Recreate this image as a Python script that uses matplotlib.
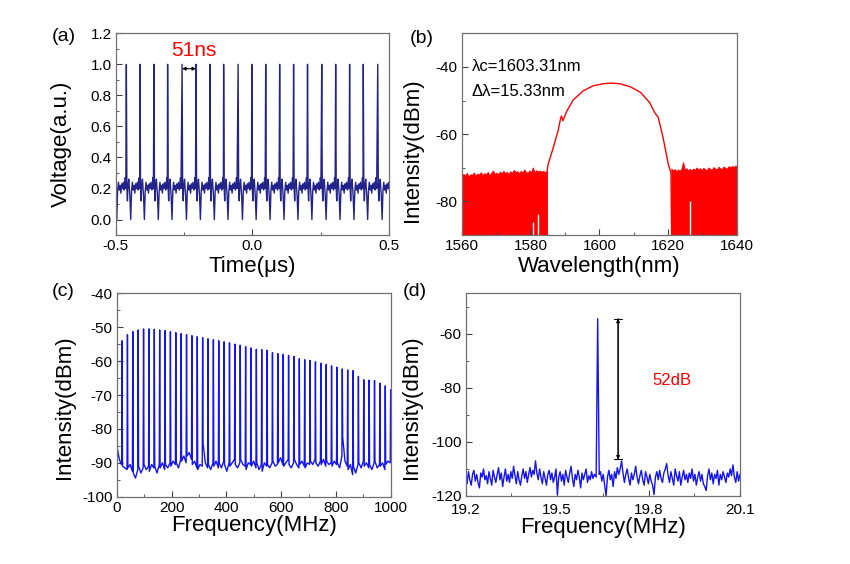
import numpy as np
import matplotlib
matplotlib.use("Agg")
import matplotlib.pyplot as plt
from matplotlib.ticker import MultipleLocator

plt.rcParams['font.family'] = ['Liberation Sans', 'DejaVu Sans']
plt.rcParams['axes.unicode_minus'] = False

# ---- (a) pulse train ----
peak_t = [-0.512, -0.461, -0.411, -0.360, -0.310, -0.257, -0.206, -0.155, -0.105, -0.052,
          -0.002, 0.049, 0.100, 0.151, 0.202, 0.254, 0.305, 0.356, 0.406, 0.459]
# one period shape after each pulse (ns, a.u.)
period_ns = [0, 2, 4, 6, 9, 13, 16, 19, 22, 25, 28, 31, 34, 37, 40, 43, 45, 47, 49]
period_v = [1.0, 0.20, 0.12, 0.22, 0.26, 0.15, 0.0, 0.18, 0.24, 0.19, 0.22, 0.17,
            0.23, 0.20, 0.24, 0.19, 0.21, 0.27, 0.20]

# ---- (b) optical spectrum ----
noise_left_top = [-72.5, -71.8, -72.3, -71.5, -72.6, -71.9, -72.1, -71.4, -72.4, -71.7,
                  -72.0, -71.3, -72.2, -71.6, -71.9, -71.2, -72.3, -71.5, -70.8, -71.8,
                  -71.4, -72.0, -71.1, -71.7, -70.9, -71.6, -71.2, -71.9, -71.0, -71.5,
                  -70.6, -71.3, -71.0, -71.6, -70.9, -71.4, -70.5, -71.2, -71.5, -70.8,
                  -71.3, -69.9, -71.4, -70.7, -71.1, -70.8, -71.2, -70.9, -71.3, -71.0]
noise_right_top = [-70.2, -70.8, -70.4, -71.0, -70.5, -70.9, -70.3, -68.3, -70.6, -70.1,
                   -70.8, -70.3, -70.9, -70.2, -70.6, -69.9, -70.5, -70.1, -70.7, -70.0,
                   -70.4, -70.8, -69.9, -70.3, -70.6, -69.8, -70.2, -70.5, -69.7, -70.1,
                   -70.4, -69.6, -70.0, -70.3, -69.5, -69.9, -69.4, -69.8, -69.3, -69.6]
gap_wl = [1580.6, 1582.3, 1626.4]
gap_top = [-86.1, -83.7, -79.8]
spec_wl = [1584.8, 1584.8, 1585.1, 1586.6, 1588.0, 1588.7, 1589.0, 1589.4, 1590.5, 1592.4,
           1595.3, 1598.2, 1601.1, 1603.3, 1606.0, 1609.0, 1612.0, 1614.6, 1616.1, 1616.6,
           1617.1, 1618.5, 1620.0, 1620.8, 1621.0]
spec_db = [-90.0, -71.0, -69.0, -64.0, -59.0, -55.5, -54.6, -56.0, -53.2, -49.8,
           -47.1, -45.6, -45.0, -44.8, -45.0, -45.9, -47.6, -50.6, -53.6, -54.3,
           -55.0, -61.0, -68.8, -71.5, -90.0]

# ---- (c) RF spectrum, 1 GHz span ----
rep_rate = 19.6  # MHz
tooth_db = [-54.0, -52.2, -51.3, -50.8, -50.5, -50.5, -50.6, -50.8, -51.0, -51.3,
            -51.6, -51.9, -52.2, -52.5, -52.8, -53.1, -53.4, -53.7, -54.0, -54.3,
            -54.6, -55.0, -55.3, -55.7, -56.1, -56.5, -56.6, -56.8, -57.5, -57.8,
            -58.0, -58.3, -58.6, -59.3, -59.6, -59.8, -60.2, -60.6, -61.0, -61.4,
            -61.8, -62.3, -62.6, -62.8, -64.5, -65.5, -65.6, -65.7, -66.5, -67.3, -68.5]
start_f = [0, 0.5, 3, 6, 10, 14, 18.1]
start_db = [-40, -84.5, -86, -87.5, -89, -90, -90.5]
base_c = [-91, -91.5, -92, -91.5, -90.5, -92.5, -93, -94.5, -92, -91, -93, -91.5,
          -90.5, -92, -91, -92.5, -90.5, -91.5, -91, -93, -90.5, -91.5, -90, -92,
          -90.5, -91.5, -90, -91, -89.5, -90.5, -90, -91.5, -89, -89.5, -88, -90,
          -88, -87, -89, -90.5, -89.5, -91.5, -92, -90.5, -91, -84.2, -90, -91.5,
          -90.5, -92, -90, -91, -89.5, -91.5, -90, -91.5, -89.5, -90.5, -92.5, -90,
          -91, -90, -89, -90.5, -91.5, -90, -89, -90.5, -91, -92, -90, -90.5,
          -91, -89.5, -91.5, -90, -92, -90.5, -92.5, -90, -91, -90.5, -91.5, -90,
          -89.5, -91, -90.5, -90, -88.5, -90.5, -91, -90, -89, -90.5, -91.5, -90,
          -89, -90.5, -91.5, -90.5, -89.5, -91, -91.5, -90, -90.5, -89.5, -90.5, -89,
          -90, -91, -89.5, -90.5, -89, -91, -89.5, -90.5, -90, -91, -89.5, -90.5,
          -90, -91.5, -88, -82.5, -89.5, -91, -92, -90.5, -93.5, -91, -93, -90.5,
          -90, -91.5, -89.5, -91, -90, -91.5, -90.5, -92, -90, -89.5, -91.5, -90.5,
          -91, -90, -92, -90.5, -89.5, -90]

# ---- (d) RF spectrum, fundamental ----
peak_f = [19.628, 19.633, 19.638]
peak_db = [-113.0, -54.4, -112.0]
noise_d_left = [-113, -115.5, -111, -114, -116, -112, -110.5, -114.5, -112, -115,
                -117, -111.5, -113, -110, -114, -112.5, -115.5, -111, -113.5, -116,
                -110.5, -113, -115, -112, -109.5, -114, -111.5, -116.5, -113, -110,
                -114.5, -112, -115, -111, -113.5, -109, -112.5, -115.5, -111, -114,
                -116, -112.5, -110, -113.5, -111, -115, -112, -109.5, -113, -110.5,
                -112, -107, -111.5, -114, -110, -113, -115.5, -111, -113.5, -116,
                -112, -110.5, -114, -111.5, -115, -113, -110, -119.5, -113, -111,
                -114.5, -112, -116, -110.5, -113, -115, -111.5, -109, -113.5, -116.5,
                -112, -114, -110.5, -113, -117, -111.5, -114, -112, -110, -115,
                -112.5, -114, -111, -113.5, -112]
noise_d_right = [-111, -114.5, -112, -116, -120, -113, -110.5, -114, -112, -116.5,
                 -111, -113.5, -109.5, -112, -110, -107, -111.5, -115, -112, -110,
                 -113.5, -116, -111.5, -114, -112, -109, -113, -115.5, -112.5, -110.5,
                 -114, -116, -111, -113, -115.5, -112, -114.5, -116, -119.5, -113,
                 -111, -114, -110.5, -113.5, -115, -111.5, -110, -108, -112.5, -115,
                 -111, -113.5, -116, -110, -112.5, -114.5, -111, -116, -113, -110.5,
                 -114, -112, -115, -111.5, -113.5, -110, -114.5, -112, -116, -113,
                 -111, -114.5, -112, -115.5, -116.5, -118, -112.5, -110, -114, -111.5,
                 -115.5, -112, -113.5, -110.5, -116, -112, -114, -111, -113, -115,
                 -111.5, -113, -110, -112.5, -108.5, -113, -115, -111, -114.5, -112]
snr_f = 19.70
snr_top, snr_bottom = -54.4, -106.5

BLUE_A = '#23238c'
BLUE = '#1414f0'
RED = '#ff0000'
FRAME = '#707070'


def style(ax, xmaj, xmin, ymaj, ymin):
    for s in ax.spines.values():
        s.set_color(FRAME)
        s.set_linewidth(0.9)
    ax.xaxis.set_major_locator(MultipleLocator(xmaj))
    ax.xaxis.set_minor_locator(MultipleLocator(xmin))
    ax.yaxis.set_major_locator(MultipleLocator(ymaj))
    ax.yaxis.set_minor_locator(MultipleLocator(ymin))
    ax.tick_params(which='both', direction='in', top=False, right=False,
                   labelsize=11, color='#404040', pad=3)
    ax.tick_params(which='major', length=4)
    ax.tick_params(which='minor', length=2)


def double_arrow(ax, p0, p1):
    ax.annotate('', xy=p0, xytext=p1,
                arrowprops=dict(arrowstyle='<|-|>', color='black', lw=0.8,
                                mutation_scale=5, shrinkA=0, shrinkB=0))
    ax.annotate('', xy=p0, xytext=p1,
                arrowprops=dict(arrowstyle='|-|,widthA=0.5,widthB=0.5', color='black',
                                lw=0.8, mutation_scale=6, shrinkA=0, shrinkB=0))


fig = plt.figure(figsize=(8.5, 5.64), dpi=100)

# (a)
ax = fig.add_axes([0.1361, 0.5833, 0.3215, 0.3576])
t_all, v_all = [], []
for p in peak_t:
    t_all.extend(p + np.array(period_ns) * 1e-3)
    v_all.extend(period_v)
ax.plot(t_all, v_all, color=BLUE_A, lw=1.0)
ax.set_xlim(-0.5, 0.5)
ax.set_ylim(-0.1, 1.2)
style(ax, 0.5, 0.25, 0.2, 0.1)
ax.xaxis.set_major_formatter(lambda v, pos: f'{v:.1f}')
ax.yaxis.set_major_formatter(lambda v, pos: f'{v:.1f}')
ax.annotate('', xy=(peak_t[5], 0.972), xytext=(peak_t[6], 0.972),
            arrowprops=dict(arrowstyle='<|-|>', color='black', lw=0.8,
                            mutation_scale=5, shrinkA=0, shrinkB=0))
ax.text(-0.215, 1.092, '51ns', color=RED, fontsize=15, ha='center', va='center')
ax.set_xlabel('Time(μs)', fontsize=16, labelpad=2)
ax.set_ylabel('Voltage(a.u.)', fontsize=16)
ax.yaxis.set_label_coords(-0.16, 0.45)

# (b)
ax = fig.add_axes([0.5432, 0.5833, 0.3239, 0.3576])
wl_l = np.linspace(1560, 1584.7, len(noise_left_top))
wl_r = np.linspace(1620.9, 1640, len(noise_right_top))
ax.fill_between(wl_l, -90, noise_left_top, color=RED, lw=0.6)
ax.fill_between(wl_r, -90, noise_right_top, color=RED, lw=0.6)
ax.vlines(gap_wl, -90, gap_top, color='white', lw=1.0)
ax.plot(spec_wl, spec_db, color=RED, lw=1.0)
ax.set_xlim(1560, 1640)
ax.set_ylim(-90, -30)
style(ax, 20, 10, 20, 10)
ax.text(1562.9, -40, 'λc=1603.31nm', fontsize=12, va='center')
ax.text(1562.9, -47.4, 'Δλ=15.33nm', fontsize=12, va='center')
ax.set_xlabel('Wavelength(nm)', fontsize=16, labelpad=2)
ax.set_ylabel('Intensity(dBm)', fontsize=16)
ax.yaxis.set_label_coords(-0.14, 0.42)

# (c)
ax = fig.add_axes([0.1373, 0.1193, 0.3224, 0.3606])
f_all = list(start_f)
db_all = list(start_db)
n_teeth = len(tooth_db)
for n in range(1, n_teeth + 1):
    fn = n * rep_rate
    f_all.append(fn)
    db_all.append(tooth_db[n - 1])
    if n < n_teeth:
        g = base_c[3 * (n - 1):3 * n]
        f_all.extend([fn + 1.5, fn + rep_rate / 2, fn + rep_rate - 1.5])
        db_all.extend(g)
ax.plot(f_all, db_all, color=BLUE, lw=1.0)
ax.set_xlim(0, 1000)
ax.set_ylim(-100, -40)
style(ax, 200, 100, 10, 5)
ax.set_xlabel('Frequency(MHz)', fontsize=16, labelpad=0)
ax.set_ylabel('Intensity(dBm)', fontsize=16)
ax.yaxis.set_label_coords(-0.152, 0.44)

# (d)
ax = fig.add_axes([0.5479, 0.1206, 0.3227, 0.3594])
fd_l = np.linspace(19.2, 19.622, len(noise_d_left))
fd_r = np.linspace(19.642, 20.1, len(noise_d_right))
fd = np.concatenate([fd_l, peak_f, fd_r])
dd = np.concatenate([noise_d_left, peak_db, noise_d_right])
ax.plot(fd, dd, color=BLUE, lw=1.0)
ax.set_xlim(19.2, 20.1)
ax.set_ylim(-120, -45)
style(ax, 0.3, 0.15, 20, 10)
ax.tick_params(axis='x', which='both', pad=5)
ax.xaxis.set_major_formatter(lambda v, pos: f'{v:.1f}')
double_arrow(ax, (snr_f, snr_top), (snr_f, snr_bottom))
ax.text(19.876, -77.3, '52dB', color=RED, fontsize=12, ha='center', va='center')
ax.set_xlabel('Frequency(MHz)', fontsize=16, labelpad=0)
ax.set_ylabel('Intensity(dBm)', fontsize=16)
ax.yaxis.set_label_coords(-0.16, 0.44)

for x, y, s in [(0.061, 0.950, '(a)'), (0.482, 0.947, '(b)'),
                (0.061, 0.498, '(c)'), (0.474, 0.498, '(d)')]:
    fig.text(x, y, s, fontsize=14, va='top', ha='left')

fig.savefig('out.png', dpi=100)
